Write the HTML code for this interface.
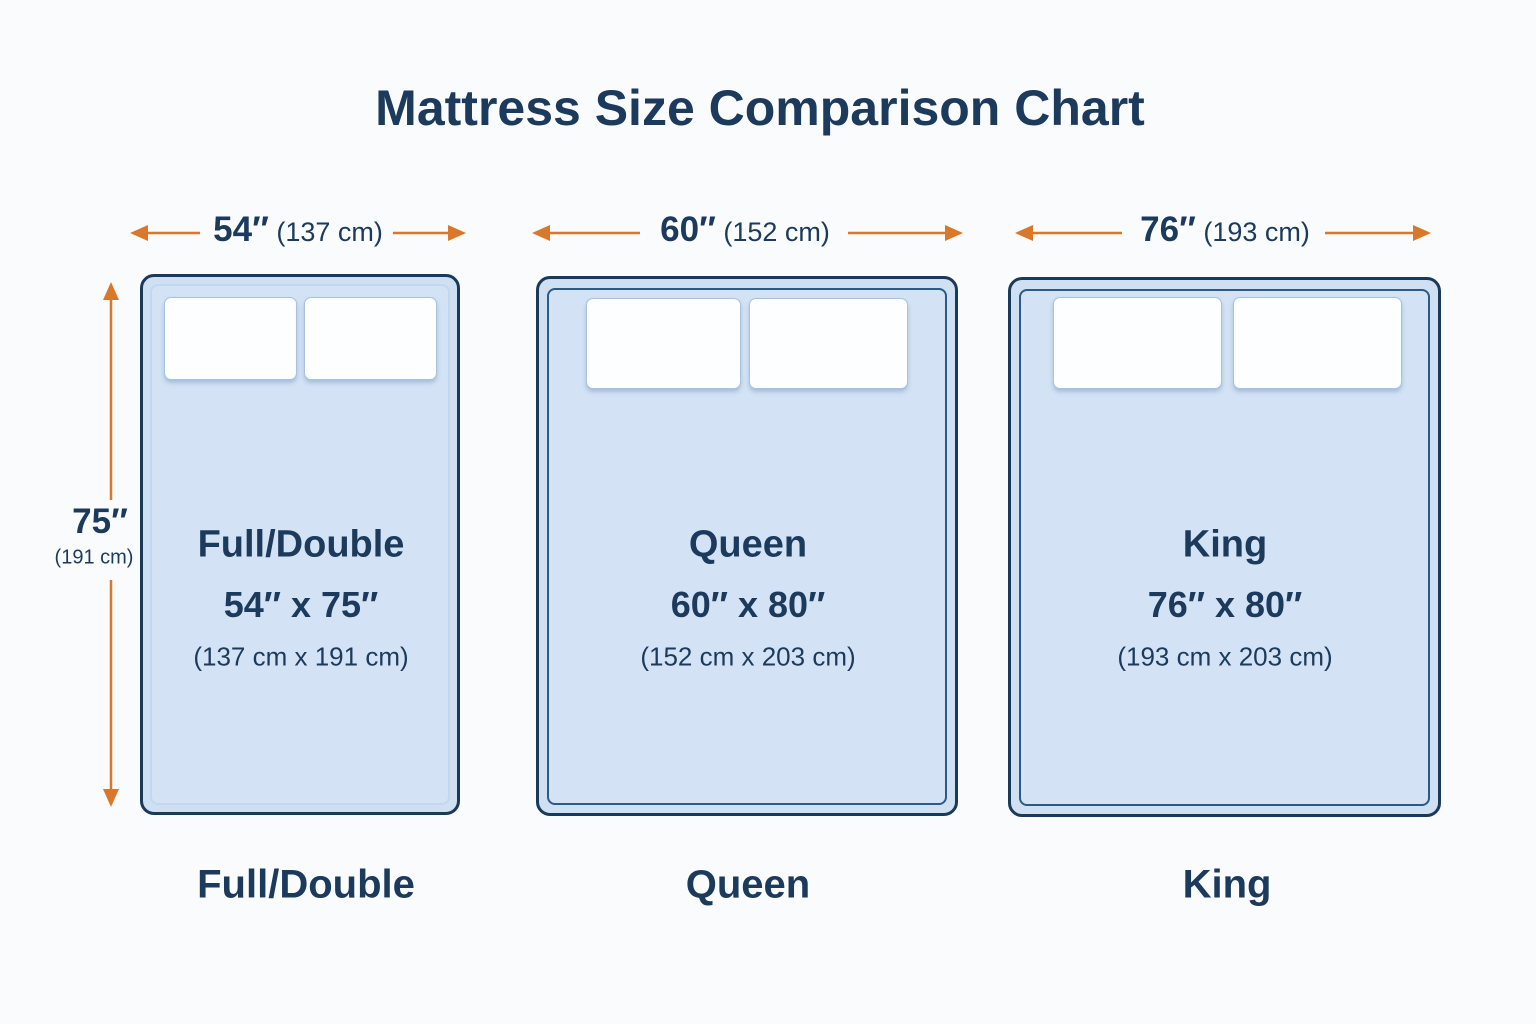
<!DOCTYPE html>
<html><head><meta charset="utf-8"><style>
*{margin:0;padding:0;box-sizing:border-box}
body{width:1536px;height:1024px;background:#fafbfc;position:relative;overflow:hidden;font-family:"Liberation Sans",sans-serif;color:#1b3a5c}
.t{position:absolute;white-space:nowrap;text-align:center;transform:translate(-50%,-50%)}
.b{font-weight:bold}
.bed{position:absolute;border:3.5px solid #1a3a5a;border-radius:14px;background:#cfe0f3}
.inner{position:absolute;border:2px solid #2c5a86;border-radius:8px;background:#d3e3f5}
.p{position:absolute;background:#fdfeff;border:1px solid #a9c3df;border-radius:7px;box-shadow:0 3px 4px rgba(80,120,170,.35)}
</style></head><body>
<div class="t b" style="left:760px;top:108px;font-size:50px">Mattress Size Comparison Chart</div>

<svg width="1536" height="1024" style="position:absolute;left:0;top:0">
<g stroke="#d9782a" stroke-width="2.5" fill="#d9782a">
<line x1="140" y1="233" x2="200" y2="233"/><polygon points="130,233 148,225 148,241" stroke="none"/>
<line x1="393" y1="233" x2="455" y2="233"/><polygon points="466,233 448,225 448,241" stroke="none"/>
<line x1="543" y1="233" x2="640" y2="233"/><polygon points="532,233 550,225 550,241" stroke="none"/>
<line x1="848" y1="233" x2="952" y2="233"/><polygon points="963,233 945,225 945,241" stroke="none"/>
<line x1="1026" y1="233" x2="1122" y2="233"/><polygon points="1015,233 1033,225 1033,241" stroke="none"/>
<line x1="1325" y1="233" x2="1420" y2="233"/><polygon points="1431,233 1413,225 1413,241" stroke="none"/>
<line x1="111" y1="292" x2="111" y2="500"/><polygon points="111,282 103,300 119,300" stroke="none"/>
<line x1="111" y1="580" x2="111" y2="796"/><polygon points="111,807 103,789 119,789" stroke="none"/>
</g></svg>

<div class="t" style="left:298px;top:230px;font-size:27px"><b style="font-size:35px">54″</b> (137 cm)</div>
<div class="t" style="left:745px;top:230px;font-size:27px"><b style="font-size:35px">60″</b> (152 cm)</div>
<div class="t" style="left:1225px;top:230px;font-size:27px"><b style="font-size:35px">76″</b> (193 cm)</div>
<div class="t b" style="left:100px;top:522px;font-size:35px">75″</div>
<div class="t" style="left:94px;top:558px;font-size:20px">(191 cm)</div>

<div class="bed" style="left:140px;top:274px;width:320px;height:541px"></div>
<div class="inner" style="left:150px;top:284px;width:300px;height:521px;border-color:#c3d7ee;background:#d3e3f5"></div>
<div class="p" style="left:164px;top:297px;width:133px;height:83px"></div>
<div class="p" style="left:304px;top:297px;width:133px;height:83px"></div>

<div class="bed" style="left:536px;top:276px;width:422px;height:540px"></div>
<div class="inner" style="left:547px;top:288px;width:400px;height:517px"></div>
<div class="p" style="left:586px;top:298px;width:155px;height:91px"></div>
<div class="p" style="left:749px;top:298px;width:159px;height:91px"></div>

<div class="bed" style="left:1008px;top:277px;width:433px;height:540px"></div>
<div class="inner" style="left:1019px;top:289px;width:411px;height:517px"></div>
<div class="p" style="left:1053px;top:297px;width:169px;height:92px"></div>
<div class="p" style="left:1233px;top:297px;width:169px;height:92px"></div>

<div class="t b" style="left:301px;top:545px;font-size:38px">Full/Double</div>
<div class="t b" style="left:301px;top:605px;font-size:36px">54″ x 75″</div>
<div class="t" style="left:301px;top:657px;font-size:26px">(137 cm x 191 cm)</div>
<div class="t b" style="left:748px;top:545px;font-size:38px">Queen</div>
<div class="t b" style="left:748px;top:605px;font-size:36px">60″ x 80″</div>
<div class="t" style="left:748px;top:657px;font-size:26px">(152 cm x 203 cm)</div>
<div class="t b" style="left:1225px;top:545px;font-size:38px">King</div>
<div class="t b" style="left:1225px;top:605px;font-size:36px">76″ x 80″</div>
<div class="t" style="left:1225px;top:657px;font-size:26px">(193 cm x 203 cm)</div>

<div class="t b" style="left:306px;top:885px;font-size:40px">Full/Double</div>
<div class="t b" style="left:748px;top:885px;font-size:40px">Queen</div>
<div class="t b" style="left:1227px;top:885px;font-size:40px">King</div>
</body></html>
